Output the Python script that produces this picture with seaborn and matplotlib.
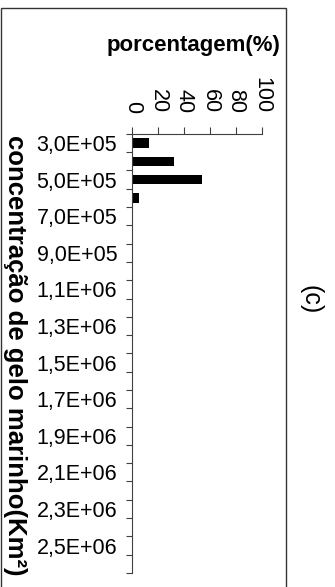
import numpy as np
import pandas as pd
import matplotlib
matplotlib.use('Agg')
import matplotlib.pyplot as plt
from matplotlib.patches import Rectangle
import seaborn as sns

# sea ice concentration classes (Km^2) and share of each class (%)
categories = ['3,0E+05', '4,0E+05', '5,0E+05', '6,0E+05', '7,0E+05', '8,0E+05',
              '9,0E+05', '1,0E+06', '1,1E+06', '1,2E+06', '1,3E+06', '1,4E+06',
              '1,5E+06', '1,6E+06', '1,7E+06', '1,8E+06', '1,9E+06', '2,0E+06',
              '2,1E+06', '2,2E+06', '2,3E+06', '2,4E+06', '2,5E+06', '2,6E+06']
percent = [13, 32, 54, 5, 0, 0,
           0, 0, 0, 0, 0, 0,
           0, 0, 0, 0, 0, 0,
           0, 0, 0, 0, 0, 0]
x_ticks = [0, 20, 40, 60, 80, 100]

sns.set_theme(style='white')
plt.rcParams['font.family'] = ['Liberation Sans', 'DejaVu Sans']
plt.rcParams['text.color'] = 'black'
plt.rcParams['xtick.color'] = 'black'
plt.rcParams['ytick.color'] = 'black'

fig = plt.figure(figsize=(3.35, 5.87), dpi=100)
ax = fig.add_axes([0.3955, 0.0239, 0.3857, 0.748])

df = pd.DataFrame({'cat': categories, 'pct': percent})
sns.barplot(data=df, x='pct', y='cat', orient='h', color='black',
            saturation=1, width=0.52, linewidth=0, ax=ax)

ax.set_xlim(0, 100)
ax.set_ylim(len(categories) - 0.5, -0.5)

# x axis on top, labels rotated
ax.xaxis.tick_top()
ax.set_xticks(x_ticks)
ax.set_xticklabels([str(v) for v in x_ticks], rotation=-90, fontsize=15.5)
ax.tick_params(axis='x', top=True, bottom=False, labeltop=True, labelbottom=False,
               length=5, width=0.8, direction='out', pad=10, color='#404040')

# every other category labelled, ticks on category boundaries
ax.set_yticks(range(0, len(categories), 2))
ax.set_yticklabels(categories[::2], fontsize=15.5)
ax.tick_params(axis='y', which='major', left=False, length=0, pad=11)
ax.set_yticks(np.arange(-0.5, len(categories), 1), minor=True)
ax.tick_params(axis='y', which='minor', left=True, length=4, width=0.8,
               direction='out', color='#404040')

for s in ['right', 'bottom']:
    ax.spines[s].set_visible(False)
for s in ['top', 'left']:
    ax.spines[s].set_color('#404040')
    ax.spines[s].set_linewidth(0.8)
ax.set_xlabel('')
ax.set_ylabel('')

fig.text(194 / 335, 1 - 45 / 587, 'porcentagem(%)', fontsize=16, fontweight='bold',
         ha='center', va='center')
fig.text(15 / 335, 1 - 355 / 587, 'concentração de gelo marinho(Km²)', fontsize=18.5,
         fontweight='bold', rotation=-90, ha='center', va='center')
fig.text(310 / 335, 1 - 300 / 587, '(c)', fontsize=18, rotation=-90,
         ha='center', va='center')

fig.patches.append(Rectangle((0.003, -0.01), 0.85, 1 - 8 / 587 + 0.01,
                             transform=fig.transFigure, fill=False,
                             lw=1, ec='#333333'))

fig.savefig('out.png', dpi=100)
